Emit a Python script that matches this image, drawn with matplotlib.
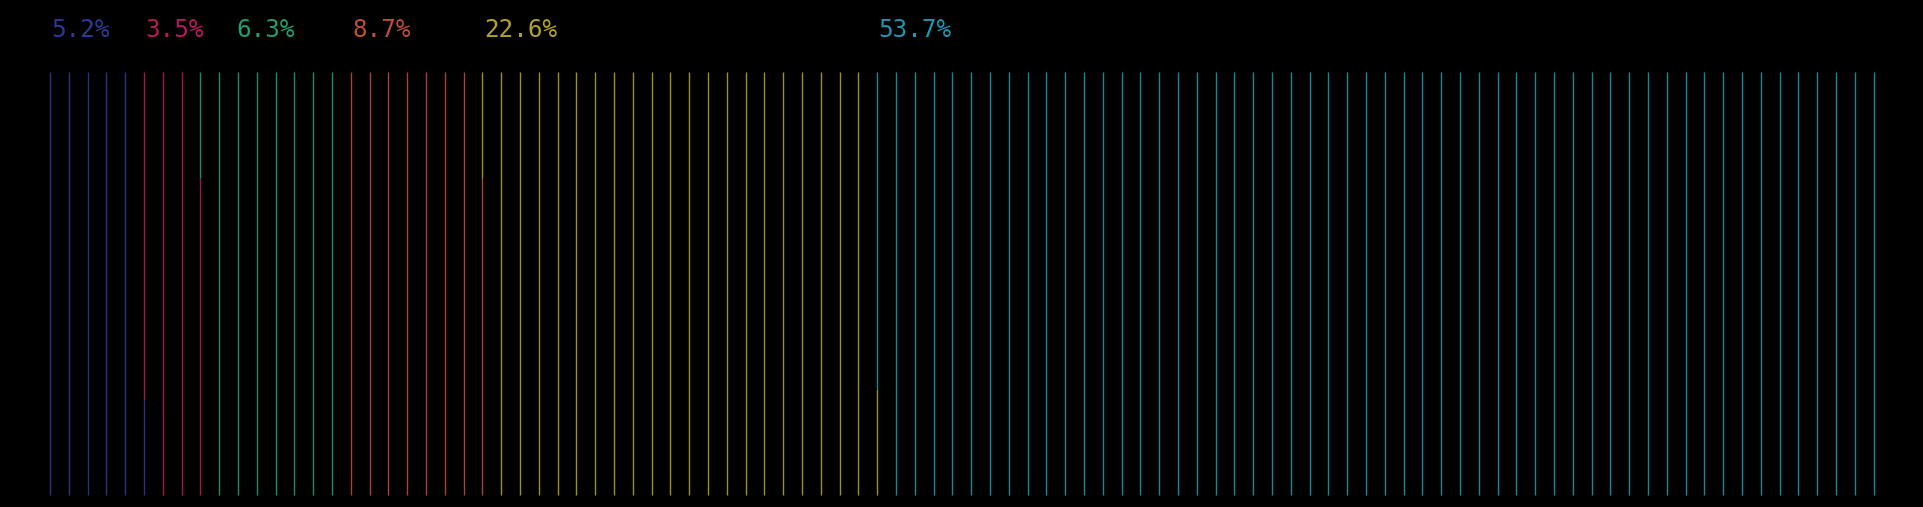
import matplotlib
matplotlib.use("Agg")
import matplotlib.pyplot as plt
import numpy as np

# shares shown in the labels
labels = ["5.2%", "3.5%", "6.3%", "8.7%", "22.6%", "53.7%"]
# how many lines each group fills (98 lines total)
line_fill = [5.225, 3.525, 7.25, 7.75, 20.5, 53.75]
colors = ["#3440a6", "#c81f68", "#25b07c", "#d2583c", "#c8b42c", "#22a6c6"]

n_lines = int(round(sum(line_fill)))
W, H = 1923, 507
fig = plt.figure(figsize=(W / 100, H / 100), dpi=100, facecolor="black")
ax = fig.add_axes([0, 0, 1, 1], facecolor="black")

step = 18.8      # pixels between lines
x0 = 49.9        # pixel of the first line
y_bot = 12.0     # pixels from bottom
y_len = 422.7
ax.set_xlim(-x0 / step, (W - x0) / step)
ax.set_ylim(-y_bot / y_len, (H - y_bot) / y_len)
ax.axis("off")

# each line is one unit, filled from the bottom by the groups in order
edges = np.concatenate([[0], np.cumsum(line_fill)])
for i in range(n_lines):
    for k in range(len(line_fill)):
        lo = max(edges[k], i)
        hi = min(edges[k + 1], i + 1)
        if hi > lo:
            ax.vlines(i, lo - i, hi - i, color=colors[k], lw=1.0, alpha=0.8)

# labels sit at the first line of each group, pushed right if they collide
fig.canvas.draw()
renderer = fig.canvas.get_renderer()
gap = 32 / step
prev_end = -np.inf
for k, lab in enumerate(labels):
    start = np.floor(edges[k]) + 1.6 / step
    x = max(start, prev_end + gap)
    t = ax.text(x, 1.083, lab, color=colors[k], fontsize=17.5,
                family="DejaVu Sans Mono", ha="left", va="baseline", alpha=0.9)
    bb = t.get_window_extent(renderer)
    prev_end = x + bb.width / step

fig.savefig("out.png", dpi=100, facecolor="black")
